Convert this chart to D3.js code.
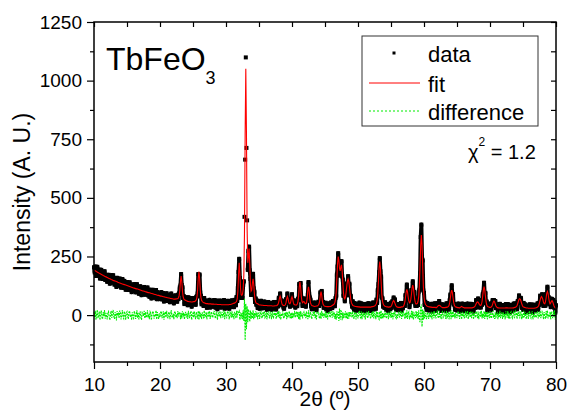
<!DOCTYPE html>
<html>
<head>
<meta charset="utf-8">
<script src="https://cdn.jsdelivr.net/npm/d3@7"></script>
<style>
  html, body { margin: 0; padding: 0; background: #fff; }
  svg text { font-family: "Liberation Sans", Arial, sans-serif; fill: #000; }
</style>
</head>
<body>
<div id="chart"></div>
<script>
// scan grid (degrees 2theta)
const scanStart = 10;
const scanStep = 0.1;

// calculated profile, one row per degree (10.0 ... 79.9), last value at 80.0
const fitValues = [
  192,190,189,187,185,184,182,180,178,177, // 10
  175,174,172,171,169,168,166,165,163,162,
  160,159,157,156,155,154,152,151,150,148,
  147,146,145,144,143,142,140,139,138,137,
  136,135,134,133,132,131,130,129,128,127,
  126,125,124,123,122,121,120,119,118,117, // 15
  116,115,114,113,112,112,111,110,109,108,
  107,106,105,104,103,103,102,101,100,99,
  98,97,96,96,95,94,93,92,92,91,
  90,89,88,88,87,86,85,84,84,83,
  82,81,81,80,79,78,78,77,76,76, // 20
  75,74,74,73,73,72,71,71,70,70,
  69,68,68,68,69,69,70,70,74,83,
  105,143,166,142,103,80,70,65,64,62,
  61,60,58,58,57,57,57,56,56,56,
  57,58,57,59,61,65,77,107,157,186, // 25
  157,106,75,63,58,55,53,53,51,50,
  49,49,49,48,48,48,48,48,47,47,
  47,47,46,46,46,46,46,45,45,45,
  45,45,45,44,44,44,44,44,44,44,
  44,44,44,44,44,45,45,45,46,47, // 30
  48,49,51,51,53,55,59,70,101,173,
  223,178,114,87,84,90,109,169,349,770,
  1051,773,366,223,248,284,219,134,102,107,
  137,155,131,91,67,55,51,49,48,46,
  44,43,43,43,42,42,42,41,41,41, // 35
  41,41,41,40,40,40,40,40,40,40,
  39,39,39,39,40,40,40,41,43,47,
  56,72,81,72,56,46,43,41,41,42,
  45,54,70,79,70,56,49,49,56,70,
  78,69,54,46,44,43,43,43,47,57, // 40
  80,119,142,120,82,60,53,56,58,55,
  49,49,53,71,103,121,103,71,52,45,
  41,40,39,38,37,38,38,39,39,40,
  43,48,62,86,100,85,61,47,42,39,
  38,37,37,36,36,36,36,37,37,37, // 45
  40,41,43,45,48,54,69,100,156,217,
  250,233,199,189,206,214,187,139,95,75,
  69,77,98,124,145,154,144,121,92,68,
  53,47,42,40,39,38,37,37,36,36,
  35,35,35,34,34,34,34,34,34,34, // 50
  34,34,34,34,34,34,34,34,34,34,
  35,36,36,37,38,39,41,44,50,63,
  92,145,201,228,201,144,91,62,49,43,
  40,38,37,36,35,35,34,34,35,35,
  37,42,50,58,62,58,50,42,37,35, // 55
  34,33,33,33,33,34,35,35,36,38,
  45,56,76,98,110,99,78,61,52,54,
  66,89,116,128,115,88,65,52,47,48,
  50,59,80,126,208,298,341,298,208,125,
  78,57,47,43,40,38,37,36,35,35, // 60
  34,34,33,33,33,33,33,33,32,32,
  35,38,41,42,41,38,35,34,32,32,
  32,32,32,33,33,34,35,37,42,54,
  74,96,107,96,74,54,42,37,35,34,
  33,32,32,31,31,33,35,37,35,33, // 65
  32,31,31,31,31,31,31,31,31,31,
  31,31,31,31,32,33,34,37,42,48,
  54,56,55,50,45,42,41,46,58,83,
  108,121,108,82,57,44,37,36,34,33,
  33,33,35,39,47,56,60,56,47,39, // 70
  35,32,31,31,30,30,30,30,30,30,
  30,30,30,30,31,31,31,30,30,30,
  30,30,30,30,30,31,31,32,33,34,
  36,41,49,59,67,70,67,59,49,41,
  36,34,33,32,31,30,30,30,29,29, // 75
  29,29,29,29,29,29,29,29,30,30,
  31,32,34,37,42,53,65,74,79,75,
  67,56,49,48,56,73,93,101,92,72,
  55,48,52,59,62,57,48,39,34,31,
  31 // 80
];

// observed minus calculated, same grid
const diffValues = [
  12,-8,18,-20,5,22,-13,-3,16,-21, // 10
  6,19,-10,-17,13,-4,21,-15,9,-2,
  -18,10,15,-9,-21,3,18,-12,7,22,
  -6,-16,13,4,-23,17,-3,11,-13,19,
  9,-18,2,21,-10,-15,16,6,-20,10,
  15,-4,-17,13,18,-9,3,-21,12,-7, // 15
  -13,17,7,-16,-2,20,-11,10,-18,4,
  16,-9,-20,11,6,-3,18,-14,13,-10,
  -4,21,-12,3,-17,14,8,-21,2,17,
  10,-15,4,-7,20,-18,13,-2,-16,7,
  -9,11,17,-13,-4,16,-20,6,14,-10, // 20
  18,-3,-14,9,13,-17,2,21,-7,-11,
  6,-18,11,16,-9,4,-13,17,-6,10,
  13,-17,9,-14,16,-7,11,-18,3,14,
  -10,7,-16,18,-3,-13,10,17,-20,4,
  9,-11,16,-6,-17,13,3,-15,18,-21, // 25
  16,-10,7,-17,11,4,-14,20,-7,-3,
  13,-18,6,10,-9,17,-16,2,14,-6,
  -11,9,18,-4,-14,7,16,-20,3,11,
  -7,17,-13,4,14,-10,-2,20,-17,9,
  3,-14,10,17,-6,-18,13,7,-11,16, // 30
  -9,6,-17,14,4,-13,18,-10,14,11,
  17,-20,11,-14,9,-17,20,-25,70,-107,
  48,-60,38,-30,25,8,-28,20,-16,13,
  -14,21,-17,9,-11,16,-7,13,-18,6,
  10,-16,3,18,-9,-13,14,-4,17,-11, // 35
  -6,13,-18,7,16,-3,-14,10,4,-17,
  14,-7,-11,17,-2,9,-16,6,13,-10,
  18,-13,11,-20,7,-4,16,-9,-14,10,
  -3,14,-17,13,-10,6,17,-13,9,-16,
  11,-14,7,-6,18,-11,3,16,-9,13, // 40
  -17,14,-20,17,-7,10,-14,6,13,-4,
  9,-13,16,-10,-17,20,-11,4,14,-7,
  -16,7,11,-4,17,-13,2,-18,10,6,
  14,-9,-14,11,-17,18,-6,9,-11,3,
  -4,16,-13,7,-18,10,14,-3,-10,17, // 45
  7,-11,17,-6,13,-16,4,-20,16,-10,
  14,-25,28,-20,18,16,-22,12,-13,9,
  -10,16,-14,11,-17,12,-15,13,-7,14,
  4,-11,17,-9,-16,13,7,-18,10,-3,
  -14,9,18,-6,-11,16,-17,3,13,-9, // 50
  11,-18,6,14,-7,-13,17,-4,9,-16,
  -3,13,-10,17,-14,7,4,-17,16,-11,
  14,-13,-18,15,-14,20,-16,10,-13,7,
  -9,17,-4,-14,11,6,-17,14,-2,-10,
  16,-11,9,-18,13,-6,17,-9,-14,4, // 55
  -13,7,14,-10,-3,18,-16,11,-7,13,
  6,-17,10,-13,20,-16,9,14,-18,3,
  -11,18,-14,16,-20,11,-6,-13,17,-9,
  13,-16,20,-18,-30,35,45,-50,25,-20,
  17,-14,10,-7,-17,13,4,-16,9,-6, // 60
  -10,14,-18,6,11,-13,17,-3,-14,9,
  16,-6,-13,18,-9,3,-17,10,14,-11,
  -7,11,4,-16,17,-10,-4,13,-18,9,
  14,-17,20,-11,16,-9,6,-14,10,-4,
  -13,9,17,-7,-16,11,3,-18,14,-6, // 65
  10,-14,-4,16,-11,7,18,-17,-3,13,
  -9,17,-13,6,14,-18,10,-2,-11,16,
  7,-13,16,-17,4,11,-9,18,-14,6,
  -11,17,-16,13,-7,14,-18,9,3,-13,
  16,-6,-14,10,17,-11,4,-16,13,-9, // 70
  -4,14,-17,7,-10,18,-13,3,11,-16,
  13,-9,6,-18,16,-3,-11,17,-14,9,
  -17,10,14,-7,-13,4,18,-10,-6,16,
  9,-16,11,-4,17,-14,7,13,-18,3,
  -13,18,-9,14,-3,-17,11,6,-16,10, // 75
  17,-7,-13,9,16,-18,4,-10,14,-6,
  -11,6,16,-14,10,-9,18,-13,-4,14,
  7,-17,13,-6,-16,17,-10,20,-14,4,
  -9,14,-18,11,6,-13,17,-7,22,-20,
  11 // 80
];

const xTickValues = [10, 20, 30, 40, 50, 60, 70, 80];
const xMinorTicks = [15, 25, 35, 45, 55, 65, 75];
const yTickValues = [0, 250, 500, 750, 1000, 1250];
const yMinorTicks = [-125, 125, 375, 625, 875, 1125];
const legendLabels = ["data", "fit", "difference"];
const compound = { main: "TbFeO", sub: "3" };
const chiSquared = "1.2";

const twoTheta = fitValues.map((_, i) => +(scanStart + i * scanStep).toFixed(1));
const observed = fitValues.map((f, i) => f + diffValues[i]);

const width = 568, height = 412;
const margin = { top: 22, right: 12, bottom: 50, left: 94 };

const svg = d3.select("#chart").append("svg")
  .attr("width", width)
  .attr("height", height);

const x = d3.scaleLinear()
  .domain([10, 80])
  .range([margin.left, width - margin.right]);

const y = d3.scaleLinear()
  .domain([-200, 1250])
  .range([height - margin.bottom, margin.top]);

const line = d3.line()
  .x(d => x(d[0]))
  .y(d => y(d[1]));

// --- data points ---
// dense scan: join neighbouring points with a thick stroke, leave the tallest flanks as dots
const obsPoints = twoTheta.map((t, i) => [t, observed[i]]);
const bandPath = d3.pairs(obsPoints)
  .filter(([a, b]) => Math.abs(y(a[1]) - y(b[1])) < 40)
  .map(([a, b]) => `M${x(a[0])},${y(a[1])}L${x(b[0])},${y(b[1])}`)
  .join("");

svg.append("path")
  .attr("d", bandPath)
  .attr("fill", "none")
  .attr("stroke", "#000")
  .attr("stroke-width", 4)
  .attr("stroke-linecap", "round");

svg.append("g")
  .selectAll("rect")
  .data(obsPoints)
  .enter().append("rect")
  .attr("x", d => x(d[0]) - 2)
  .attr("y", d => y(d[1]) - 2)
  .attr("width", 4)
  .attr("height", 4)
  .attr("fill", "#000");

// --- fit ---
svg.append("path")
  .datum(twoTheta.map((t, i) => [t, fitValues[i]]))
  .attr("d", line)
  .attr("fill", "none")
  .attr("stroke", "#ff0000")
  .attr("stroke-width", 1.1);

// --- difference ---
svg.append("path")
  .datum(twoTheta.map((t, i) => [t, diffValues[i]]))
  .attr("d", line)
  .attr("fill", "none")
  .attr("stroke", "#00ee00")
  .attr("stroke-width", 1.1)
  .attr("stroke-dasharray", "2,1");

// --- axes ---
const fontSize = "19px";
const yB = height - margin.bottom;

function styleAxis(g) {
  g.select(".domain").remove();
  g.selectAll(".tick line").attr("stroke", "#000").attr("stroke-width", 1.2);
  g.selectAll("text").style("font-size", fontSize).attr("fill", "#000")
    .style("font-family", '"Liberation Sans", Arial, sans-serif');
}

svg.append("g")
  .attr("transform", `translate(${margin.left},0)`)
  .call(d3.axisLeft(y).tickValues(yTickValues).tickSize(7).tickPadding(5).tickFormat(d3.format("d")))
  .call(styleAxis);

svg.append("g")
  .attr("transform", `translate(${margin.left},0)`)
  .call(d3.axisLeft(y).tickValues(yMinorTicks).tickSize(4).tickFormat(""))
  .call(styleAxis);

svg.append("g")
  .attr("transform", `translate(0,${yB})`)
  .call(d3.axisBottom(x).tickValues(xTickValues).tickSize(7).tickPadding(9).tickFormat(d3.format("d")))
  .call(styleAxis);

svg.append("g")
  .attr("transform", `translate(0,${yB})`)
  .call(d3.axisBottom(x).tickValues(xMinorTicks).tickSize(4).tickFormat(""))
  .call(styleAxis);

svg.append("g")
  .attr("transform", `translate(0,${margin.top})`)
  .call(d3.axisTop(x).tickValues(xTickValues.concat(xMinorTicks)).tickSize(-5).tickFormat(""))
  .call(styleAxis);

svg.append("g")
  .attr("transform", `translate(${width - margin.right},0)`)
  .call(d3.axisRight(y).tickValues(yTickValues.concat(yMinorTicks)).tickSize(-5).tickFormat(""))
  .call(styleAxis);

// frame
svg.append("rect")
  .attr("x", margin.left)
  .attr("y", margin.top)
  .attr("width", width - margin.right - margin.left)
  .attr("height", yB - margin.top)
  .attr("fill", "none")
  .attr("stroke", "#000")
  .attr("stroke-width", 1.5);

// --- axis titles ---
svg.append("text")
  .attr("transform", `translate(30,${(margin.top + yB) / 2}) rotate(-90)`)
  .attr("text-anchor", "middle")
  .style("font-size", "23px")
  .text("Intensity (A. U.)");

svg.append("text")
  .attr("x", (margin.left + width - margin.right) / 2)
  .attr("y", 406)
  .attr("text-anchor", "middle")
  .style("font-size", "21px")
  .text("2θ (º)");

// --- compound label ---
const title = svg.append("text")
  .attr("x", 106)
  .attr("y", 70)
  .style("font-size", "32px");
title.append("tspan").text(compound.main);
title.append("tspan")
  .attr("dy", 14)
  .style("font-size", "18px")
  .text(compound.sub);

// --- legend ---
const legend = svg.append("g");
legend.append("rect")
  .attr("x", 362)
  .attr("y", 36)
  .attr("width", 176)
  .attr("height", 90)
  .attr("fill", "#fff")
  .attr("stroke", "#333")
  .attr("stroke-width", 1);

const rowY = [53, 83, 111];
legend.append("rect")
  .attr("x", 392.5).attr("y", rowY[0] - 1.5)
  .attr("width", 3).attr("height", 3)
  .attr("fill", "#000");
legend.append("line")
  .attr("x1", 369).attr("x2", 420)
  .attr("y1", rowY[1]).attr("y2", rowY[1])
  .attr("stroke", "#ff0000").attr("stroke-width", 1);
legend.append("line")
  .attr("x1", 369).attr("x2", 420)
  .attr("y1", rowY[2]).attr("y2", rowY[2])
  .attr("stroke", "#00ee00").attr("stroke-width", 1)
  .attr("stroke-dasharray", "2,2");

legend.selectAll("text.lab")
  .data(legendLabels)
  .enter().append("text")
  .attr("class", "lab")
  .attr("x", 428)
  .attr("y", (d, i) => rowY[i] + 8.5)
  .style("font-size", "22px")
  .text(d => d);

// --- chi squared ---
const chi = svg.append("text")
  .attr("x", 468)
  .attr("y", 159)
  .style("font-size", "20px");
chi.append("tspan").text("χ");
chi.append("tspan")
  .attr("dy", -13)
  .style("font-size", "12px")
  .text("2");
chi.append("tspan")
  .attr("dy", 13)
  .text(" = " + chiSquared);
</script>
</body>
</html>
